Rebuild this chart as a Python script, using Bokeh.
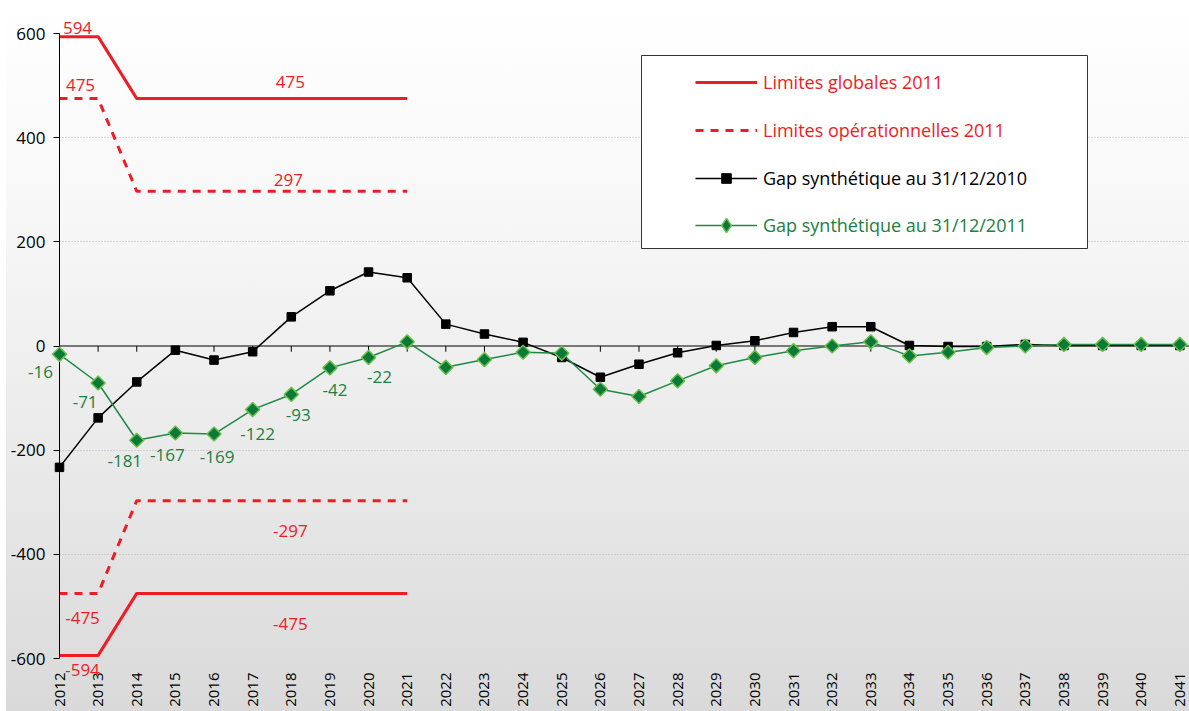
import math
from bokeh.plotting import figure
from bokeh.models import (Range1d, FixedTicker, BoxAnnotation, Legend, LegendItem, Span)
from bokeh.core.properties import value
from bokeh.embed import file_html
from bokeh.resources import INLINE

# ---------------- data ----------------
years = list(range(2012, 2042))
gap_2010 = [-233, -138, -69, -8, -27, -11, 56, 106, 142, 131,
            42, 23, 7, -22, -60, -35, -13, 1, 10, 26,
            37, 37, 1, -1, -1, 3, 1, 1, 1, 1]
gap_2011 = [-16, -71, -181, -167, -169, -122, -93, -42, -22, 8,
            -41, -26, -12, -14, -83, -97, -67, -38, -22, -9,
            0, 8, -19, -12, -3, 0, 3, 3, 3, 3]
limit_years = list(range(2012, 2022))
global_upper = [594, 594, 475, 475, 475, 475, 475, 475, 475, 475]
global_lower = [-594, -594, -475, -475, -475, -475, -475, -475, -475, -475]
oper_upper = [475, 475, 297, 297, 297, 297, 297, 297, 297, 297]
oper_lower = [-475, -475, -297, -297, -297, -297, -297, -297, -297, -297]
y_ticks = [-600, -400, -200, 0, 200, 400, 600]
legend_labels = ["Limites globales 2011", "Limites opérationnelles 2011",
                 "Gap synthétique au 31/12/2010", "Gap synthétique au 31/12/2011"]
green_labelled = 9  # first points of 2011 gap that carry a value label

# ---------------- styles ----------------
FONT = "Open Sans"
RED = "#ee1c25"
GREEN_LINE = "#1e8a45"
GREEN_FILL = "#0b7a38"
GREEN_EDGE = "#6cc04a"
GREEN_TEXT = "#1b8040"

p = figure(width=1189, height=711,
           x_range=Range1d(2012, 2041.25), y_range=Range1d(-600, 600),
           output_backend="svg", toolbar_location=None,
           min_border_left=59, min_border_top=33, min_border_bottom=53, min_border_right=0,
           background_fill_alpha=0, border_fill_alpha=0, outline_line_color=None)
p.styles = {"background-image": "linear-gradient(to bottom, #ffffff 0%, #f7f7f7 30%, #e9e9e9 65%, #d9d9d9 100%)",
            "background-position": "6px 6px", "background-repeat": "no-repeat",
            "background-size": "100% 100%"}

# chart-area border
p.add_layout(BoxAnnotation(left=6, right=1300, top=6, bottom=800,
                           left_units="canvas", right_units="canvas",
                           top_units="canvas", bottom_units="canvas",
                           fill_alpha=0, line_color="#a4a4a4", line_alpha=1,
                           line_width=1, level="overlay"))

# grid
p.xgrid.visible = False
p.ygrid.ticker = FixedTicker(ticks=[t for t in y_ticks if t != 0])
p.ygrid.grid_line_color = "#b4b4b4"
p.ygrid.grid_line_dash = "1 2"

# y axis
p.yaxis.ticker = FixedTicker(ticks=y_ticks)
p.yaxis.major_label_overrides = {t: str(t) for t in y_ticks}
p.yaxis.axis_line_color = "black"
p.yaxis.major_tick_line_color = "black"
p.yaxis.major_tick_out = 6
p.yaxis.major_tick_in = 0
p.yaxis.minor_tick_line_color = None
p.yaxis.major_label_standoff = 8
p.yaxis.major_label_text_font = FONT
p.yaxis.major_label_text_font_size = "17px"
p.yaxis.major_label_text_color = "black"

# x axis (labels low)
p.xaxis.ticker = FixedTicker(ticks=years)
p.xaxis.major_label_overrides = {y: str(y) for y in years}
p.xaxis.axis_line_color = None
p.xaxis.major_tick_line_color = None
p.xaxis.minor_tick_line_color = None
p.xaxis.major_label_orientation = math.pi / 2
p.xaxis.major_label_standoff = 8
p.xaxis.major_label_text_font = FONT
p.xaxis.major_label_text_font_size = "15px"
p.xaxis.major_label_text_color = "black"

# zero line with category ticks
p.add_layout(Span(location=0, dimension="width", line_color="black", line_width=1, level="underlay"))
p.segment(x0=years, y0=[0] * len(years), x1=years, y1=[-11] * len(years),
          line_color="black", line_width=1)

# limits
r_gu = p.line(limit_years, global_upper, line_color=RED, line_width=3)
p.line(limit_years, global_lower, line_color=RED, line_width=3)
r_ou = p.line(limit_years, oper_upper, line_color=RED, line_width=3, line_dash="8 7")
p.line(limit_years, oper_lower, line_color=RED, line_width=3, line_dash="8 7")

# gaps
r_bl = p.line(years, gap_2010, line_color="black", line_width=1.5)
r_gl = p.line(years, gap_2011, line_color=GREEN_LINE, line_width=1.5)
r_bs = p.scatter(years, gap_2010, marker="square", size=8.5, fill_color="black",
                 line_color="black", level="overlay")
p.scatter(years, gap_2011, marker="square", angle=math.pi / 4, size=10,
          fill_color=GREEN_FILL, line_color=GREEN_EDGE, line_width=1.5, level="overlay")
# legend proxy (diamond glyph), no visible point
r_gs_leg = p.scatter(x=[float("nan")], y=[float("nan")], marker="diamond", size=17,
                     fill_color=GREEN_FILL, line_color=GREEN_EDGE, line_width=1.5)

# limit value labels
lim_sel = [(global_upper, 0, 18, -9), (oper_upper, 0, 21, -14),
           (global_upper, 6, -1, -17), (oper_upper, 6, -3, -11),
           (oper_lower, 6, -1, 30), (global_lower, 6, -1, 31),
           (oper_lower, 0, 23, 25), (global_lower, 0, 23, 15)]
p.text(x=[limit_years[i] for s, i, dx, dy in lim_sel],
       y=[s[i] for s, i, dx, dy in lim_sel],
       text=[str(s[i]) for s, i, dx, dy in lim_sel],
       x_offset=[dx for s, i, dx, dy in lim_sel],
       y_offset=[dy for s, i, dx, dy in lim_sel],
       text_align="center", text_baseline="middle", text_color=RED,
       text_font=value(FONT), text_font_size="17px", level="overlay")

# green value labels
g_dx = [-19, -13, -12, -8, 3, 5, 7, 5, 11]
g_dy = [18, 19, 21, 22, 23, 24, 21, 22, 20]
p.text(x=years[:green_labelled], y=gap_2011[:green_labelled],
       text=[str(v) for v in gap_2011[:green_labelled]],
       x_offset=g_dx, y_offset=g_dy,
       text_align="center", text_baseline="middle", text_color=GREEN_TEXT,
       text_font=value(FONT), text_font_size="17px", level="overlay")

# legend box
p.add_layout(BoxAnnotation(left=641, right=1087, top=55, bottom=248,
                           left_units="canvas", right_units="canvas",
                           top_units="canvas", bottom_units="canvas",
                           fill_color="white", fill_alpha=1,
                           line_color="#333333", line_alpha=1,
                           line_width=1, level="annotation"))

legend_rows = [(legend_labels[0], [r_gu], RED, 564, 24),
               (legend_labels[1], [r_ou], RED, 516, 24),
               (legend_labels[2], [r_bl, r_bs], "black", 468, 24),
               (legend_labels[3], [r_gl, r_gs_leg], GREEN_TEXT, 415, 36)]
for lab, rends, col, vy, gh in legend_rows:
    lg = Legend(items=[LegendItem(label=lab, renderers=rends)], location=(636, vy),
                padding=0, margin=0, spacing=0, border_line_color=None,
                background_fill_alpha=0, glyph_width=62, glyph_height=gh,
                label_height=gh, label_standoff=6,
                label_text_font=FONT, label_text_font_size="18px",
                label_text_color=col, label_text_baseline="middle")
    p.add_layout(lg, "center")

open("out.html", "w").write(file_html(p, INLINE))
